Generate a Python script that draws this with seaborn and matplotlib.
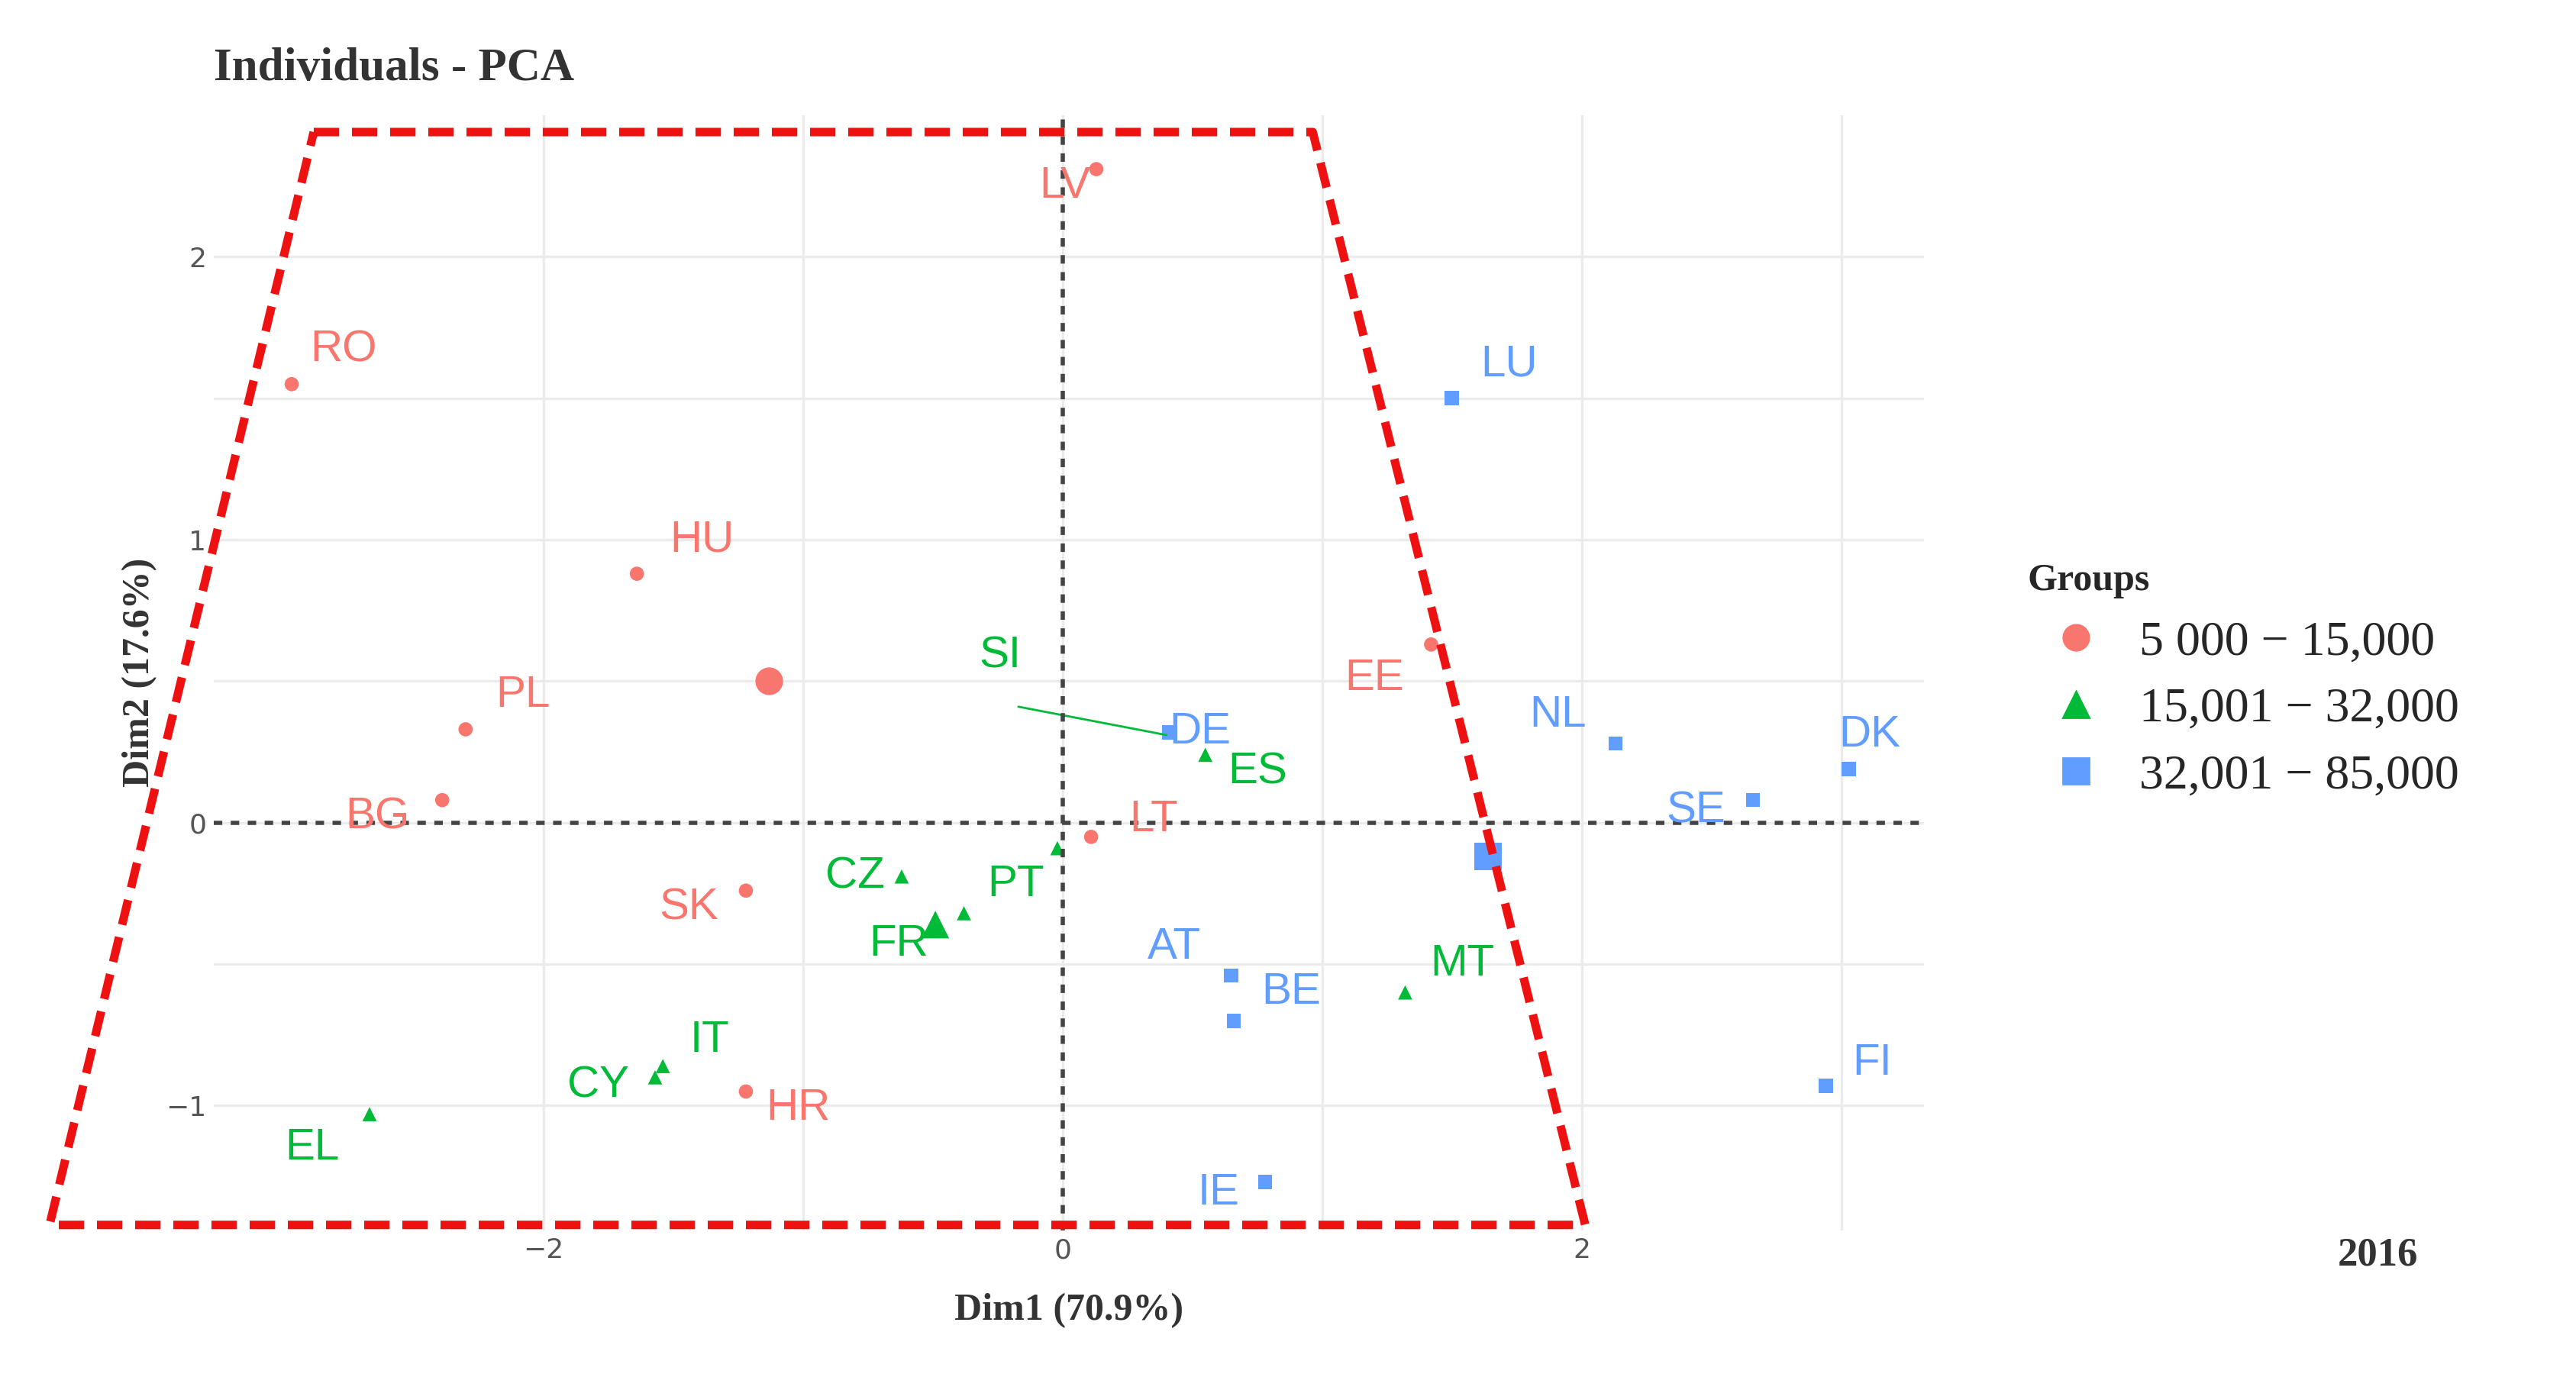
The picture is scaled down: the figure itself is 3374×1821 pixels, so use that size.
import numpy as np
import pandas as pd
import matplotlib
matplotlib.use("Agg")
import matplotlib.pyplot as plt
from matplotlib.lines import Line2D
import seaborn as sns

# PCA individuals (Dim1, Dim2)
countries = ["RO", "HU", "PL", "BG", "SK", "HR", "LV", "LT", "EE",
             "SI", "ES", "CZ", "PT", "FR", "IT", "CY", "EL", "MT",
             "LU", "DE", "NL", "DK", "SE", "AT", "BE", "IE", "FI"]
dim1 = [-2.97, -1.64, -2.30, -2.39, -1.22, -1.22, 0.13, 0.11, 1.42,
        -0.02, 0.55, -0.62, -0.38, -0.48, -1.54, -1.57, -2.67, 1.32,
        1.50, 0.41, 2.13, 3.03, 2.66, 0.65, 0.66, 0.78, 2.94]
dim2 = [1.55, 0.88, 0.33, 0.08, -0.24, -0.95, 2.31, -0.05, 0.63,
        -0.09, 0.24, -0.19, -0.32, -0.37, -0.86, -0.90, -1.03, -0.60,
        1.50, 0.32, 0.28, 0.19, 0.08, -0.54, -0.70, -1.27, -0.93]
groups = ["5 000 − 15,000"] * 9 + ["15,001 − 32,000"] * 9 + ["32,001 − 85,000"] * 9

group_names = ["5 000 − 15,000", "15,001 − 32,000", "32,001 − 85,000"]
centroid_x = [-1.13, -0.49, 1.64]
centroid_y = [0.50, -0.36, -0.12]
colors = ["#F8766D", "#00BA38", "#619CFF"]
markers = ["o", "^", "s"]

# label placement offsets (data units)
label_dx = [0.2, 0.25, 0.22, -0.25, -0.22, 0.2, -0.12, 0.24, -0.22,
            -0.22, 0.2, -0.18, 0.2, -0.15, 0.18, -0.22, -0.22, 0.22,
            0.22, 0.12, -0.22, 0.08, -0.22, -0.22, 0.22, -0.18, 0.18]
label_dy = [0.12, 0.12, 0.12, -0.06, -0.06, -0.06, -0.06, 0.06, -0.12,
            0.68, -0.06, 0.0, 0.1, -0.06, 0.09, -0.03, -0.12, 0.1,
            0.12, 0.0, 0.1, 0.12, -0.04, 0.1, 0.1, -0.04, 0.08]

df = pd.DataFrame({"Dim1": dim1, "Dim2": dim2, "Groups": groups, "label": countries})

sns.set_theme(style="whitegrid")
fig = plt.figure(figsize=(16.87, 9.105), dpi=200)
ax = fig.add_axes([0.083, 0.115, 0.664, 0.802])

palette = dict(zip(group_names, colors))
mk = dict(zip(group_names, markers))
sns.scatterplot(data=df, x="Dim1", y="Dim2", hue="Groups", style="Groups",
                palette=palette, markers=mk, s=45, edgecolor="none", ax=ax, legend=False)
sns.scatterplot(x=centroid_x, y=centroid_y, hue=group_names, style=group_names,
                palette=palette, markers=mk, s=170, edgecolor="none", ax=ax, legend=False)

for i, row in df.iterrows():
    ax.text(row.Dim1 + label_dx[i], row.Dim2 + label_dy[i], row.label,
            color=palette[row.Groups], fontsize=21, ha="center", va="center",
            family="Liberation Sans")
# SI repel segment
si = countries.index("SI")
ax.plot([dim1[si] - 0.15, 0.40], [dim2[si] + 0.5, 0.31], color=colors[1], lw=1)

ax.axhline(0, color="#444444", ls=(0, (2, 2)), lw=2)
ax.axvline(0, color="#444444", ls=(0, (2, 2)), lw=2)

ax.set_xlim(-3.27, 3.32)
ax.set_ylim(-1.44, 2.5)
ax.set_xticks([-2, 0, 2])
ax.set_yticks([-1, 0, 1, 2])
ax.set_xticks([-1, 1, 3], minor=True)
ax.set_yticks([-0.5, 0.5, 1.5], minor=True)
ax.grid(which="both", color="#EBEBEB", lw=1.2)
for s in ax.spines.values():
    s.set_visible(False)
ax.tick_params(labelsize=13, colors="#555555", length=0)
ax.set_xlabel("Dim1 (70.9%)", family="Liberation Serif", fontweight="bold",
              fontsize=18, color="#333333", labelpad=14)
ax.set_ylabel("Dim2 (17.6%)", family="Liberation Serif", fontweight="bold",
              fontsize=18, color="#333333")
ax.set_title("Individuals - PCA", loc="left", family="Liberation Serif",
             fontweight="bold", fontsize=22, color="#333333", x=0.0, y=1.02)

handles = [Line2D([], [], marker=m, color=c, ls="none", markersize=12)
           for m, c in zip(markers, colors)]
leg = fig.legend(handles, group_names, title="Groups", loc="center left",
                 bbox_to_anchor=(0.77, 0.51), frameon=False,
                 prop={"family": "Liberation Serif", "size": 23},
                 handletextpad=0.3, labelspacing=0.45)
leg.get_title().set_fontfamily("Liberation Serif")
leg.get_title().set_fontweight("bold")
leg.get_title().set_fontsize(18)
leg._legend_box.align = "left"

fig.text(0.923, 0.09, "2016", family="Liberation Serif", fontweight="bold",
         fontsize=19, color="#333333", ha="center")

# red dashed trapezoid (figure fractions)
tx = [190 / 1560, 795 / 1560, 960 / 1560, 30 / 1560, 190 / 1560]
ty = [1 - 80 / 842, 1 - 80 / 842, 1 - 742 / 842, 1 - 742 / 842, 1 - 80 / 842]
fig.add_artist(Line2D(tx, ty, transform=fig.transFigure, color="#EE1111",
                      lw=4, ls=(0, (3, 1.5))))

fig.savefig("out.png", dpi=200, facecolor="white")
